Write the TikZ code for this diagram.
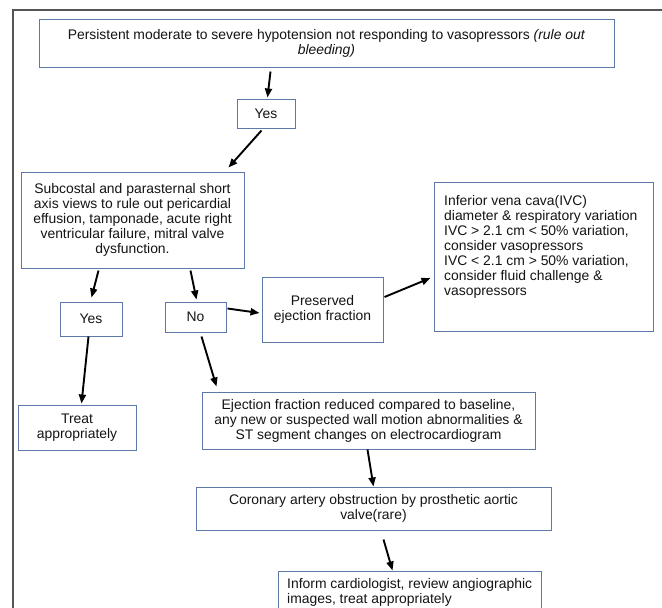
\documentclass[tikz,border=0pt]{standalone}
\usepackage{fontspec}
\setmainfont{Liberation Sans}
\usetikzlibrary{arrows.meta,calc}
\definecolor{boxc}{RGB}{95,120,170}
\definecolor{framec}{RGB}{85,85,85}
\definecolor{txt}{RGB}{20,20,20}
\begin{document}
\begin{tikzpicture}[x=1pt,y=-1pt,
  box/.style={draw=boxc,line width=1pt,inner sep=0pt,text=txt,
    font=\fontsize{13.9}{15}\selectfont,align=center},
  plain/.style={inner sep=0pt,text=txt,font=\fontsize{13.9}{15}\selectfont,align=left},
  arr/.style={line width=1.9pt,-{Triangle[length=9pt,width=7pt]}}]
\useasboundingbox (0,0) rectangle (662,608);
\clip (0,0) rectangle (662,608);
\fill[white] (0,0) rectangle (662,608);
\draw[framec,line width=1.2pt] (13,640) -- (13,10) -- (664,10) -- (664,640);

\node[box,minimum width=575pt,minimum height=48pt] (top) at (326.5,43)
  {Persistent moderate to severe hypotension not responding to vasopressors \textit{(rule out}\\ \textit{bleeding)}};
\node[box,minimum width=58pt,minimum height=29pt] (yes1) at (266,113.5) {Yes};
\node[box,minimum width=223pt,minimum height=96pt] (sub) at (132.5,220)
  {Subcostal and parasternal short\\ axis views to rule out pericardial\\ effusion, tamponade, acute right\\ ventricular failure, mitral valve\\ dysfunction.};
\node[box,minimum width=62pt,minimum height=34pt] (yes2) at (91,319) {Yes};
\node[box,minimum width=61pt,minimum height=30pt] (no) at (195.5,317) {No};
\node[box,minimum width=121pt,minimum height=65pt] (pres) at (322.5,309.5)
  {Preserved\\ ejection fraction};
\node[box,minimum width=219pt,minimum height=149pt] (ivc) at (543.5,256.5) {};
\node[plain,anchor=west] (ivct) at (444,247)
  {Inferior vena cava(IVC)\\ diameter \& respiratory variation\\ IVC > 2.1 cm < 50\% variation,\\ consider vasopressors\\ IVC < 2.1 cm > 50\% variation,\\ consider fluid challenge \&\\ vasopressors};
\node[box,minimum width=118pt,minimum height=45pt] (treat) at (77,427.5)
  {Treat\\ appropriately};
\node[box,minimum width=333pt,minimum height=57pt] (ej) at (368.5,420.5)
  {Ejection fraction reduced compared to baseline,\\ any new or suspected wall motion abnormalities \&\\ ST segment changes on electrocardiogram};
\node[box,minimum width=355pt,minimum height=43pt] (cor) at (373.5,508.5)
  {Coronary artery obstruction by prosthetic aortic\\ valve(rare)};
\node[box,minimum width=263pt,minimum height=54pt] (inform) at (409.5,598) {};
\node[plain,anchor=west] (informt) at (287,592)
  {Inform cardiologist, review angiographic\\ images, treat appropriately};

\draw[arr] ($(top.south west)+(232,4)$) -- ($(yes1.north west)+(31,-1)$);
\draw[arr] ($(yes1.south west)+(25,2)$) -- ($(sub.north east)+(-16,-4)$);
\draw[arr] ($(sub.south west)+(78,2)$) -- ($(yes2.north west)+(32,-4)$);
\draw[arr] ($(sub.south west)+(170,2)$) -- ($(no.north west)+(32,-2)$);
\draw[arr] ($(no.north east)+(1,7)$) -- ($(pres.west)+(-2,3.5)$);
\draw[arr] ($(pres.east)+(1,-12.5)$) -- ($(ivc.west)+(-3,21.5)$);
\draw[arr] ($(yes2.south west)+(29,0)$) -- ($(treat.north west)+(64,-1)$);
\draw[arr] ($(no.south west)+(37,4)$) -- ($(ej.north west)+(15,-5)$);
\draw[arr] ($(ej.south west)+(166,0)$) -- ($(cor.north west)+(178,0)$);
\draw[arr] ($(cor.south west)+(188,9)$) -- ($(inform.north west)+(115,0)$);
\end{tikzpicture}
\end{document}
